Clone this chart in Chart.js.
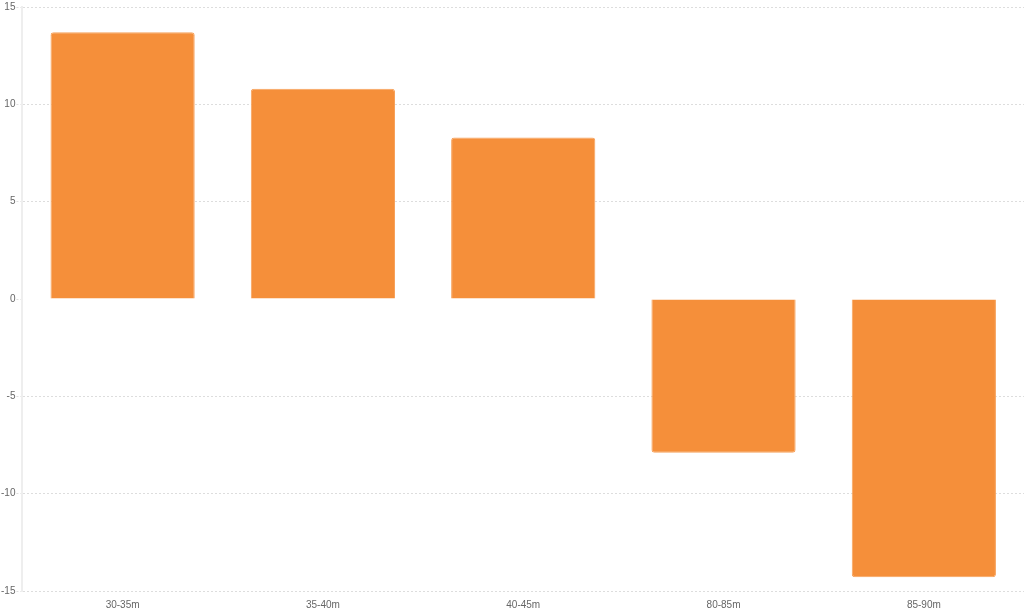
<!DOCTYPE html>
<html>
<head>
<meta charset="utf-8">
<script src="https://cdn.jsdelivr.net/npm/chart.js@4"></script>
<style>
  html, body { margin: 0; padding: 0; background: #fff; }
  #wrap { width: 1024px; height: 611px; }
</style>
</head>
<body>
<div id="wrap"><canvas id="chart"></canvas></div>
<script>
const categories = ['30-35m', '35-40m', '40-45m', '80-85m', '85-90m'];
const values = [13.7, 10.8, 8.3, -7.9, -14.3];
const yTicks = [-15, -10, -5, 0, 5, 10, 15];

const ctx = document.getElementById('chart').getContext('2d');
new Chart(ctx, {
    type: 'bar',
    data: {
        labels: categories,
        datasets: [{
            data: values,
            backgroundColor: '#f58f3a',
            borderColor: '#f7a25c',
            borderWidth: 1,
            borderRadius: 3,
            borderSkipped: 'start'
        }]
    },
    options: {
        responsive: true,
        maintainAspectRatio: false,
        animation: false,
        layout: { padding: { top: 3, right: 0, bottom: 0, left: 0 } },
        plugins: { legend: { display: false }, tooltip: { enabled: false } },
        scales: {
            x: {
                grid: { display: false },
                border: { display: false },
                ticks: { color: '#666', padding: 0, font: { family: 'Helvetica, Arial, sans-serif', size: 10 } }
            },
            y: {
                min: -15,
                max: 15,
                afterBuildTicks: axis => { axis.ticks = yTicks.map(v => ({ value: v })); },
                border: { display: true, color: '#eeeeee', width: 2, dash: [2, 2] },
                grid: {
                    color: c => c.tick && c.tick.value === 0 ? 'rgba(0,0,0,0)' : '#dddddd',
                    tickColor: '#dddddd',
                    tickBorderDash: [2, 2],
                    tickLength: 6
                },
                ticks: { color: '#666', padding: 1, font: { family: 'Helvetica, Arial, sans-serif', size: 10 } }
            }
        }
    }
});
</script>
</body>
</html>
